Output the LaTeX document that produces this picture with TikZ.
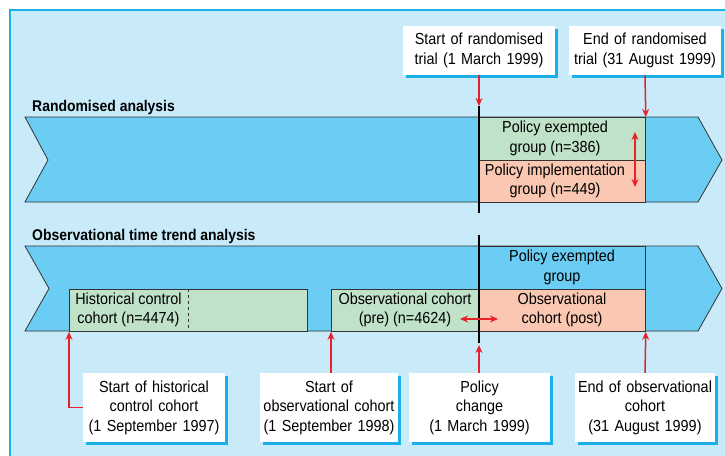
\documentclass[tikz,border=0pt]{standalone}
\usepackage{fontspec}
\setmainfont{Liberation Sans}[FakeStretch=0.9]
\usetikzlibrary{shadows,arrows.meta}
\definecolor{panel}{HTML}{C8EAF9}
\definecolor{edge}{HTML}{1BB0EA}
\definecolor{band}{HTML}{6BCDF4}
\definecolor{grn}{HTML}{C0E2C8}
\definecolor{pnk}{HTML}{F9C7B2}
\definecolor{arr}{HTML}{E8202A}
\definecolor{ln}{HTML}{333333}
\begin{document}
\begin{tikzpicture}[x=1pt,y=-1pt,
  font=\fontsize{16}{19.5}\selectfont,
  callout/.style={fill=white, align=center, inner sep=0pt, text width=#1,
    copy shadow={shadow xshift=3pt, shadow yshift=-3pt, fill=edge, draw=none}},
  cell/.style={draw=ln, line width=0.8pt, inner sep=0pt, anchor=north west},
  txt/.style={align=center, inner sep=0pt},
  title/.style={anchor=base west, inner sep=0pt, font=\bfseries\fontsize{15.5}{18}\selectfont},
  redarrow/.style={draw=arr, line width=1.5pt, -{Stealth[length=8pt,width=7pt]}},
  dblarrow/.style={draw=arr, line width=1.5pt, {Stealth[length=8pt,width=7pt]}-{Stealth[length=8pt,width=7pt]}},
  bandline/.style={draw=ln, line width=0.8pt, fill=band},
  timeline/.style={draw=black, line width=2.2pt}
]
\path[use as bounding box] (0,0) rectangle (725,455);
\clip (0,0) rectangle (725,455);
% panel
\fill[panel] (10,10) rectangle (745,470);
\draw[edge, line width=1.5pt] (10,470) -- (10,10) -- (745,10);

% ---------- Randomised analysis ----------
\node[title] (tA) at (32,111) {Randomised analysis};
\path[bandline] (25,117) -- (698,117) -- (722,160) -- (698,202) -- (25,202) -- (48,160) -- cycle;
\node[cell, fill=grn, minimum width=166pt, minimum height=43pt] (ex1) at (479,117) {};
\node[cell, fill=pnk, minimum width=166pt, minimum height=42pt] (im1) at (479,160) {};
\node[txt] (ex1t) at (555,138.5) {Policy exempted\\group (n=386)};
\node[txt] (im1t) at (555,181) {Policy implementation\\group (n=449)};
\coordinate (k1top) at (479,106);
\coordinate (k1bot) at (479,213);
\draw[timeline] (k1top) -- (k1bot);
\coordinate (d1a) at (635,132);
\coordinate (d1b) at (635,187);
\draw[dblarrow] (d1a) -- (d1b);

\node[callout=152pt, minimum height=49pt] (s1) at (479,50.5) {Start of randomised\\trial (1 March 1999)};
\node[callout=152pt, minimum height=49pt] (e1) at (645,50.5) {End of randomised\\trial (31 August 1999)};
\draw[redarrow] (s1.south) -- (k1top);
\draw[redarrow] (e1.south) -- (ex1.north east);

% ---------- Observational time trend analysis ----------
\node[title] (tB) at (32,240) {Observational time trend analysis};
\path[bandline] (25,246) -- (698,246) -- (722,288.5) -- (698,331) -- (25,331) -- (49,288.5) -- cycle;
\node[cell, fill=grn, minimum width=238pt, minimum height=42.5pt] (hist) at (69,288.5) {};
\draw[ln, dashed, line width=0.8pt] (188,288.5) -- (188,331);
\node[txt] (histt) at (128.5,310) {Historical control\\cohort (n=4474)};
\node[cell, fill=grn, minimum width=148pt, minimum height=42.5pt] (pre) at (331,288.5) {};
\node[txt] (pret) at (405,310) {Observational cohort\\(pre) (n=4624)\hspace{14pt}};
\node[cell, fill=band, minimum width=166pt, minimum height=42.5pt] (ex2) at (479,246) {};
\node[txt] (ex2t) at (562,267.5) {Policy exempted\\group};
\node[cell, fill=pnk, minimum width=166pt, minimum height=42.5pt] (post) at (479,288.5) {};
\node[txt] (postt) at (562,310) {Observational\\cohort (post)};
\coordinate (k2top) at (479,235);
\coordinate (k2bot) at (479,343);
\draw[timeline] (k2top) -- (k2bot);
\coordinate (d2a) at (460,319);
\coordinate (d2b) at (498,319);
\draw[dblarrow] (d2a) -- (d2b);

\node[callout=142pt, minimum height=69pt] (b1) at (154,407.5) {Start of historical\\control cohort\\(1 September 1997)};
\node[callout=138pt, minimum height=69pt] (b2) at (329,407.5) {Start of\\observational cohort\\(1 September 1998)};
\node[callout=141pt, minimum height=69pt] (b3) at (479.5,407.5) {Policy\\change\\(1 March 1999)};
\node[callout=140pt, minimum height=69pt] (b4) at (645,407.5) {End of observational\\cohort\\(31 August 1999)};
\coordinate (pc) at (479,345);
\draw[redarrow] (b1.west) -| (hist.south west);
\draw[redarrow] (b2.north -| pre.south west) -- (pre.south west);
\draw[redarrow] (b3.north -| pc) -- (pc);
\draw[redarrow] (b4.north) -- (post.south east);
\end{tikzpicture}
\end{document}
